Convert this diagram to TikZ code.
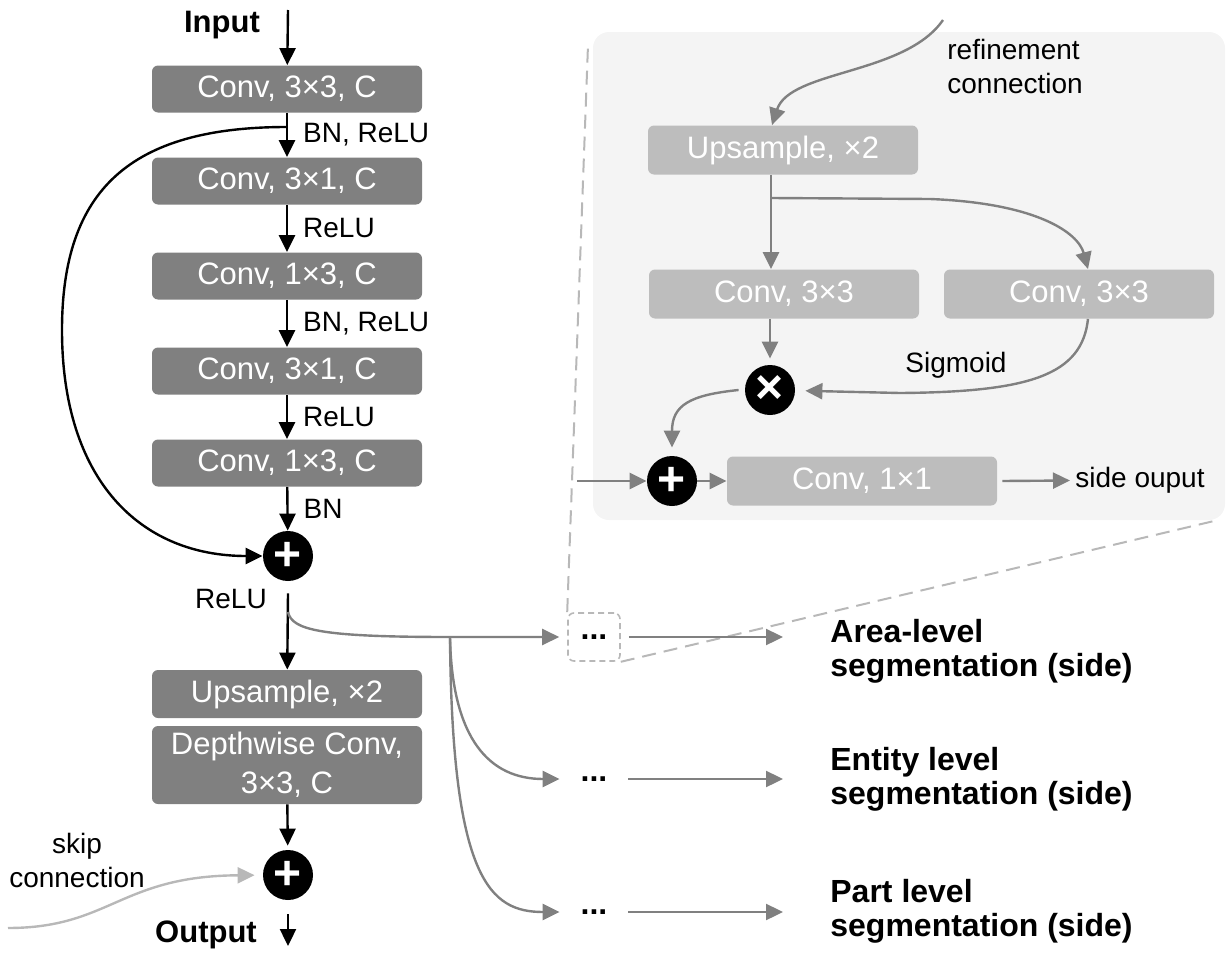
\documentclass[tikz,border=0pt]{standalone}
\usepackage{fontspec}
\setmainfont{Liberation Sans}
\usetikzlibrary{arrows.meta}
\definecolor{boxgray}{HTML}{808080}
\definecolor{litegray}{HTML}{BDBDBD}
\definecolor{panelgray}{HTML}{F4F4F4}
\definecolor{linegray}{HTML}{808080}
\definecolor{skipgray}{HTML}{B8B8B8}

\begin{document}
\begin{tikzpicture}[x=0.5pt,y=-0.5pt]
\tikzstyle{every node}+=[inner sep=0pt]
\tikzstyle{convbox}=[rectangle, rounded corners=3pt, fill=boxgray, text=white, minimum width=135pt, minimum height=23.5pt, align=center, font=\fontsize{15.5}{19.5}\selectfont]
\tikzstyle{refbox}=[convbox, fill=litegray, minimum height=24.5pt]
\tikzstyle{opnode}=[circle, fill=black, text=white, minimum size=25pt, font=\fontsize{24}{24}\selectfont\bfseries]
\tikzstyle{lbl}=[font=\fontsize{14}{17}\selectfont]
\tikzstyle{iolbl}=[font=\fontsize{15.5}{18}\selectfont\bfseries]
\tikzstyle{seglbl}=[anchor=west, align=left, font=\fontsize{16}{17}\selectfont\bfseries]
\tikzstyle{dotbox}=[minimum width=26pt, minimum height=24pt, font=\fontsize{16}{16}\selectfont\bfseries]
\tikzstyle{barr}=[draw=black, line width=1.2pt, -{Triangle[length=8.5pt,width=8pt]}]
\tikzstyle{garr}=[draw=linegray, line width=1.2pt, -{Triangle[length=8.5pt,width=8pt]}]
\tikzstyle{zoomline}=[draw=skipgray, line width=1pt, dash pattern=on 7pt off 4pt]
\useasboundingbox (0,0) rectangle (1228,953);
\node [fill=panelgray, rounded corners=8pt, minimum width=316pt, minimum height=244pt] (pnl) at (909,276) {};
\node [iolbl] (inp) at (222,25) {Input};
\coordinate (inpsrc) at (288,10);
\node [convbox] (c1) at (287,89) {Conv, 3×3, C};
\node [convbox] (c2) at (287,181) {Conv, 3×1, C};
\node [convbox] (c3) at (287,276) {Conv, 1×3, C};
\node [convbox] (c4) at (287,371) {Conv, 3×1, C};
\node [convbox] (c5) at (287,463) {Conv, 1×3, C};
\node [opnode] (sum1) at (288,556) {+};
\node [convbox, minimum height=24pt] (up1) at (287,694) {Upsample, ×2};
\node [convbox, minimum height=39pt] (dw) at (287,765) {Depthwise Conv,\\3×3, C};
\node [opnode] (sum2) at (288,875) {+};
\node [iolbl] (outp) at (206,935) {Output};
\coordinate (outend) at (288,946);
\node [lbl, align=center] (skiptxt) at (77,860) {skip\\connection};
\coordinate (skipin) at (8,928);
\coordinate (skipsrc) at (287,127);
\draw [barr] (inpsrc) -- (c1);
\draw [barr] (c1) -- node [lbl, anchor=west, xshift=7.5pt] {BN, ReLU} (c2);
\draw [barr] (c2) -- node [lbl, anchor=west, xshift=7.5pt] {ReLU} (c3);
\draw [barr] (c3) -- node [lbl, anchor=west, xshift=7.5pt] {BN, ReLU} (c4);
\draw [barr] (c4) -- node [lbl, anchor=west, xshift=7.5pt] {ReLU} (c5);
\draw [barr] (c5) -- node [lbl, anchor=west, xshift=7.5pt] {BN} (sum1);
\draw [barr] (skipsrc) .. controls (130,127) and (62,190) .. (62,330) .. controls (62,480) and (140,556) .. (sum1);
\draw [barr] ([yshift=-6pt]sum1.south) -- node [lbl, pos=0.07, anchor=east, xshift=-10pt] {ReLU} (up1);
\draw [barr, shorten >=2pt] (dw) -- (sum2);
\draw [barr] ([yshift=-7pt]sum2.south) -- (outend);
\draw [draw=skipgray, line width=1.2pt, -{Triangle[length=8.5pt,width=8pt]}, shorten >=4pt] (skipin) .. controls (110,928) and (120,876) .. (sum2);
\node [dotbox, draw=skipgray, line width=0.8pt, dash pattern=on 3pt off 2pt, rounded corners=3pt] (d1) at (594,637) {...};
\node [dotbox] (d2) at (594,779) {...};
\node [dotbox] (d3) at (594,912) {...};
\node [seglbl] (arealbl) at (830,651) {Area-level\\segmentation (side)};
\node [seglbl] (entlbl) at (830,779) {Entity level\\segmentation (side)};
\node [seglbl] (partlbl) at (830,911) {Part level\\segmentation (side)};
\coordinate (zoomtl) at (588,45);
\coordinate (zoombr) at (1214,521);
\draw [zoomline] (d1.north west) -- (zoomtl);
\draw [zoomline] (d1.south east) -- (zoombr);
\coordinate (br0) at (288,612);
\coordinate (br1) at (450,637);
\draw [garr, shorten >=4pt] (br0) .. controls (292,630) and (320,637) .. (br1) -- (d1);
\draw [garr, shorten >=4pt] (br1) .. controls (452,740) and (490,779) .. (d2);
\draw [garr, shorten >=4pt] (br1) .. controls (452,880) and (490,912) .. (d3);
\draw [garr] ([xshift=4pt]d1.east) -- ([xshift=-23.5pt]arealbl.west |- d1.east);
\draw [garr] ([xshift=4pt]d2.east) -- ([xshift=-23.5pt]entlbl.west |- d2.east);
\draw [garr] ([xshift=4pt]d3.east) -- ([xshift=-23.5pt]partlbl.west |- d3.east);
\coordinate (refsrc) at (943,20);
\node [lbl, align=left, anchor=west] (reftxt) at (947,66) {refinement\\connection};
\node [refbox] (rup) at (783,150) {Upsample, ×2};
\node [refbox] (rc1) at (784,294) {Conv, 3×3};
\node [refbox] (rc2) at (1079,294) {Conv, 3×3};
\node [opnode] (mul) at (770,390) {×};
\node [opnode] (add) at (672,481) {+};
\node [refbox] (rc3) at (862,481) {Conv, 1×1};
\node [lbl, anchor=west] (sideout) at (1075,480) {side ouput};
\node [lbl] (sig) at (956,365) {Sigmoid};
\coordinate (rsplit) at (771,198);
\coordinate (addsrc) at (577,481);
\draw [garr] (refsrc) .. controls (905,75) and (790,70) .. ([xshift=-5.5pt]rup.north);
\draw [garr] ([xshift=-6pt]rup.south) -- ([xshift=-6.5pt]rc1.north);
\draw [garr] (rsplit) -- (930,199) .. controls (1035,203) and (1078,232) .. ([xshift=4.5pt]rc2.north);
\draw [garr, shorten >=3pt] ([xshift=-7pt]rc1.south) -- (mul);
\draw [garr, shorten >=5pt] ([xshift=4.5pt]rc2.south) .. controls (1082,375) and (1030,392) .. (900,393) -- (mul);
\draw [garr, shorten >=4pt] ([xshift=-3pt]mul.west) .. controls (690,395) and (672,405) .. (add);
\draw [garr] (addsrc) -- (add);
\draw [garr] (add) -- (rc3);
\draw [garr, shorten >=2.5pt] ([xshift=2.5pt]rc3.east) -- (sideout);
\end{tikzpicture}
\end{document}
